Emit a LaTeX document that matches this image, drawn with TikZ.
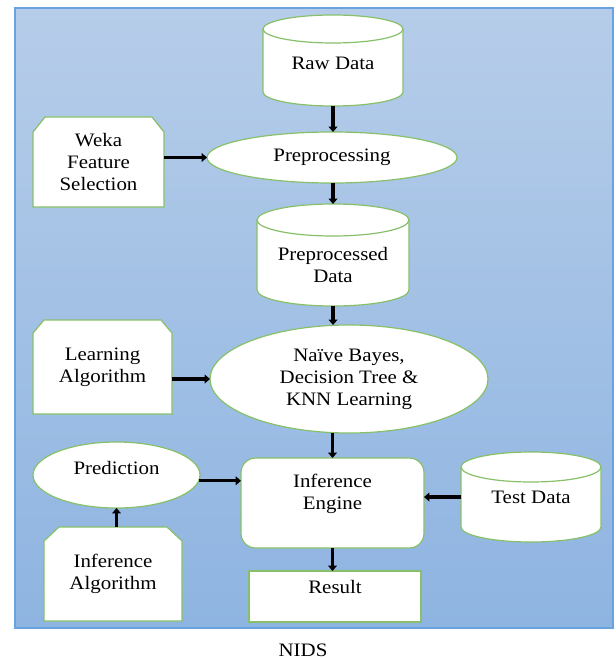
\documentclass[tikz,border=0pt]{standalone}
\usepackage{fontspec}
\setmainfont[FakeStretch=1.1]{Liberation Serif}
\usetikzlibrary{shapes.geometric,arrows.meta}
\definecolor{bgtop}{RGB}{182,205,233}
\definecolor{bgbot}{RGB}{142,180,225}
\definecolor{bgline}{RGB}{105,162,222}
\definecolor{outl}{RGB}{135,192,105}
\tikzset{
  shp/.style={draw=outl, fill=white, line width=0.9pt},
  hold/.style={inner sep=0pt, outer sep=0pt},
  txt/.style={font=\rmfamily\fontsize{14.25}{16.5}\selectfont, align=center, inner sep=0pt, text=black},
  arr/.style={line width=2.4pt, -{Triangle[length=4pt,width=6.5pt]}},
}
% cylinder: name, x1, ytop, x2, ybot, ry
\newcommand\cylnode[6]{%
  \pgfmathsetmacro\rxv{(#4-#2)/2}%
  \draw[shp] (#2,#3+#6) -- (#2,#5-#6) arc[start angle=180,end angle=0,x radius=\rxv,y radius=#6]
     -- (#4,#3+#6) arc[start angle=0,end angle=-180,x radius=\rxv,y radius=#6] -- cycle;
  \draw[shp,fill=none] (#2,#3+#6) arc[start angle=180,end angle=0,x radius=\rxv,y radius=#6];
  \node[hold, minimum width={(#4-#2)*0.75pt}, minimum height={(#5-#3)*0.75pt}] (#1) at ({(#2+#4)/2},{(#3+#5)/2}) {};
}
% chamfered box: name, x1, ytop, x2, ybot, cut x, cut y, text
\newcommand\chamnode[8]{%
  \draw[shp] (#2,#5) -- (#2,#3+#7) -- (#2+#6,#3) -- (#4-#6,#3) -- (#4,#3+#7) -- (#4,#5) -- cycle;
  \node[hold, txt, minimum width={(#4-#2)*0.75pt}, minimum height={(#5-#3)*0.75pt}] (#1) at ({(#2+#4)/2},{(#3+#5)/2}) {#8};
}
\begin{document}
\begin{tikzpicture}[x=1pt,y=1pt,xscale=0.75,yscale=-0.75]
\useasboundingbox (0,0) rectangle (616,659);
\shade[top color=bgtop, bottom color=bgbot] (15,8) rectangle (613,628);
\draw[bgline, line width=0.8pt] (15,8) rectangle (613,628);

% cylinders
\cylnode{raw}{263}{15}{403}{106}{14}
\node[txt] (rawt) at (333,63) {Raw Data};
\cylnode{ppd}{257}{204}{409}{306}{16}
\node[txt] (ppdt) at (333,264.5) {Preprocessed\\Data};
\cylnode{test}{461}{452}{601}{542}{15}
\node[txt] (testt) at (531,497) {Test Data};

% chamfered boxes
\chamnode{weka}{33}{117}{164}{207}{12}{15}{Weka\\Feature\\Selection}
\chamnode{learn}{33}{320}{172}{414}{11}{13}{Learning\\Algorithm}
\chamnode{ialg}{44}{527}{182}{621}{15}{14}{Inference\\Algorithm}

% ellipses
\node[shp, ellipse, hold, txt, minimum width=187.5pt, minimum height=38.25pt] (prep) at (332,157.5) {Preprocessing};
\node[shp, ellipse, hold, txt, minimum width=208.5pt, minimum height=81pt] (nb) at (349,379) {Naïve Bayes,\\Decision Tree \&\\KNN Learning};
\node[shp, ellipse, hold, minimum width=125.25pt, minimum height=49.5pt] (pred) at (116.5,475) {};
\node[txt] (predt) at (116.5,468) {Prediction};

% inference engine and result
\node[shp, rounded corners=11pt, hold, minimum width=137.25pt, minimum height=67.5pt] (ie) at (332.5,503) {};
\node[txt] (iet) at (332.5,493.5) {Inference\\Engine};
\node[shp, hold, minimum width=129pt, minimum height=38.25pt] (res) at (335,596.5) {};
\node[txt] (rest) at (335,587) {Result};

\node[txt] (nids) at (303,650) {NIDS};

% connectors
\draw[arr] (raw.south) -- (raw.south |- prep.north);
\draw[arr] (prep.west -| weka.east) -- (prep.west);
\draw[arr] (prep.south -| ppd.south) -- (ppd.north);
\draw[arr] (ppd.south) -- (ppd.south |- nb.north);
\draw[arr] (nb.west -| learn.east) -- (nb.west);
\draw[arr] (nb.south -| ie.north) -- (ie.north);
\draw[arr] (pred.-4) -- (pred.-4 -| ie.west);
\draw[arr] (test.west) -- (test.west -| ie.east);
\draw[arr] (pred.south |- ialg.north) -- (pred.south);
\draw[arr] (ie.south) -- (ie.south |- res.north);
\end{tikzpicture}
\end{document}
